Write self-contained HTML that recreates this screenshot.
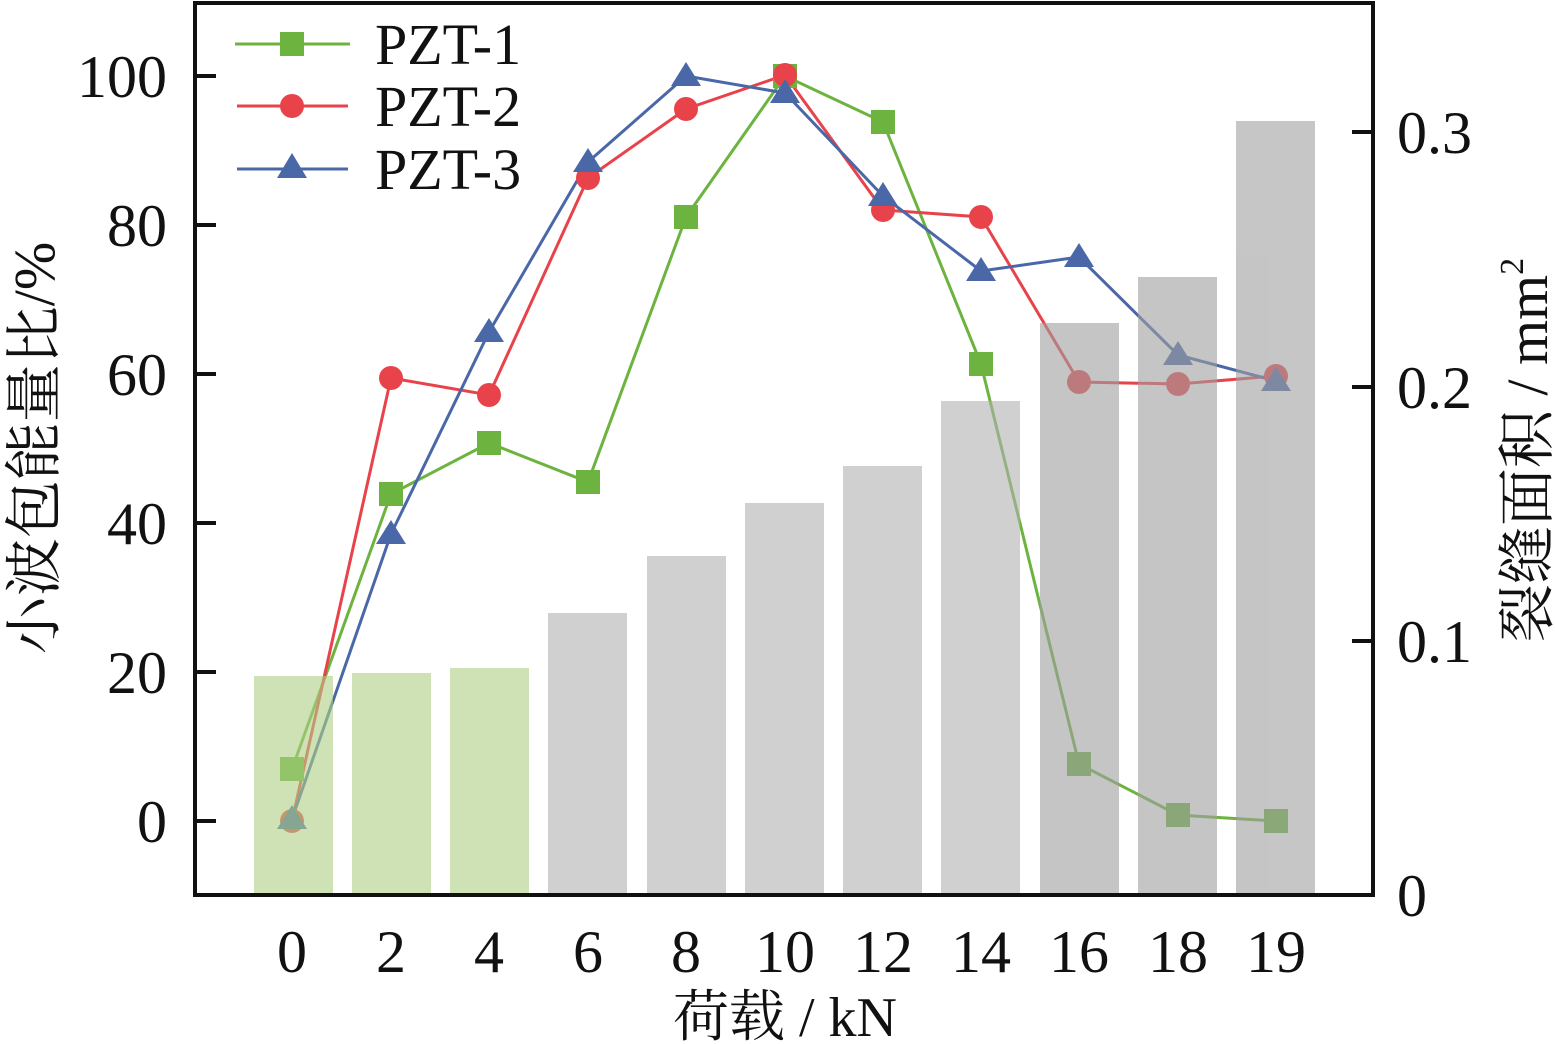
<!DOCTYPE html>
<html><head><meta charset="utf-8"><style>
html,body{margin:0;padding:0;background:#fff;}
svg{display:block;}
text{font-family:"Liberation Serif","Times New Roman",serif;fill:#111;}
.cjk{font-family:"Liberation Serif","Noto Serif CJK SC","Noto Sans CJK SC",serif;}
</style></head><body>
<svg width="1555" height="1044" viewBox="0 0 1555 1044" xmlns="http://www.w3.org/2000/svg">
<g fill="none" stroke-width="3">
<polyline stroke="#6db33f" points="292,769 391,494 489,443 588,482 686,217 785,76 883,122 981,364 1079,764 1178,815 1276,821"/>
<polyline stroke="#e8434a" points="292,821 391,378 489,395 588,178 686,109 785,75 883,210 981,217 1079,382 1178,384 1276,376"/>
<polyline stroke="#4a68a8" points="292,819 391,534 489,332 588,162 686,76 785,93 883,196 981,271 1079,257 1178,355 1276,381"/>
</g>
<g fill="#6db33f">
<rect x="280" y="757" width="24" height="24"/><rect x="379" y="482" width="24" height="24"/><rect x="477" y="431" width="24" height="24"/><rect x="576" y="470" width="24" height="24"/><rect x="674" y="205" width="24" height="24"/><rect x="773" y="64" width="24" height="24"/><rect x="871" y="110" width="24" height="24"/><rect x="969" y="352" width="24" height="24"/><rect x="1067" y="752" width="24" height="24"/><rect x="1166" y="803" width="24" height="24"/><rect x="1264" y="809" width="24" height="24"/>
</g>
<g fill="#e8434a">
<circle cx="292" cy="821" r="12"/><circle cx="391" cy="378" r="12"/><circle cx="489" cy="395" r="12"/><circle cx="588" cy="178" r="12"/><circle cx="686" cy="109" r="12"/><circle cx="785" cy="75" r="12"/><circle cx="883" cy="210" r="12"/><circle cx="981" cy="217" r="12"/><circle cx="1079" cy="382" r="12"/><circle cx="1178" cy="384" r="12"/><circle cx="1276" cy="376" r="12"/>
</g>
<g fill="#4a68a8">
<path d="M292,805 l15,24 h-30z"/><path d="M391,520 l15,24 h-30z"/><path d="M489,318 l15,24 h-30z"/><path d="M588,148 l15,24 h-30z"/><path d="M686,62 l15,24 h-30z"/><path d="M785,79 l15,24 h-30z"/><path d="M883,182 l15,24 h-30z"/><path d="M981,257 l15,24 h-30z"/><path d="M1079,243 l15,24 h-30z"/><path d="M1178,341 l15,24 h-30z"/><path d="M1276,367 l15,24 h-30z"/>
</g>
<g opacity="0.6">
<rect x="254" y="676" width="79" height="219" fill="#afd085"/>
<rect x="352" y="673" width="79" height="222" fill="#afd085"/>
<rect x="450" y="668" width="79" height="227" fill="#afd085"/>
<rect x="548" y="613" width="79" height="282" fill="#b1b1b1"/>
<rect x="647" y="556" width="79" height="339" fill="#b1b1b1"/>
<rect x="745" y="503" width="79" height="392" fill="#b1b1b1"/>
<rect x="843" y="466" width="79" height="429" fill="#b1b1b1"/>
<rect x="941" y="401" width="79" height="494" fill="#b1b1b1"/>
<rect x="1040" y="323" width="79" height="572" fill="#a0a0a0"/>
<rect x="1138" y="277" width="79" height="618" fill="#a0a0a0"/>
<rect x="1236" y="121" width="79" height="774" fill="#a0a0a0"/>
</g>
<rect x="195" y="3" width="1178" height="892" fill="none" stroke="#111" stroke-width="4"/>
<g stroke="#111" stroke-width="4">
<line x1="195" y1="821" x2="216" y2="821"/><line x1="195" y1="672" x2="216" y2="672"/><line x1="195" y1="523" x2="216" y2="523"/><line x1="195" y1="374" x2="216" y2="374"/><line x1="195" y1="225" x2="216" y2="225"/><line x1="195" y1="76" x2="216" y2="76"/>
<line x1="1352" y1="641" x2="1373" y2="641"/><line x1="1352" y1="387" x2="1373" y2="387"/><line x1="1352" y1="132" x2="1373" y2="132"/>
</g>
<g font-size="60" text-anchor="end">
<text x="167" y="842">0</text><text x="167" y="693">20</text><text x="167" y="544">40</text><text x="167" y="395">60</text><text x="167" y="246">80</text><text x="167" y="97">100</text>
</g>
<g font-size="60">
<text x="1397" y="916">0</text><text x="1397" y="662">0.1</text><text x="1397" y="408">0.2</text><text x="1397" y="153">0.3</text>
</g>
<g font-size="60" text-anchor="middle">
<text x="292" y="972">0</text><text x="391" y="972">2</text><text x="489" y="972">4</text><text x="588" y="972">6</text><text x="686" y="972">8</text><text x="785" y="972">10</text><text x="883" y="972">12</text><text x="981" y="972">14</text><text x="1079" y="972">16</text><text x="1178" y="972">18</text><text x="1276" y="972">19</text>
</g>
<text class="cjk" x="785" y="1036" font-size="56" text-anchor="middle">荷载 / kN</text>
<text class="cjk" transform="translate(54,448) rotate(-90)" font-size="58" text-anchor="middle">小波包能量比/%</text>
<text class="cjk" transform="translate(1547,450) rotate(-90)" font-size="58" text-anchor="middle">裂缝面积 / mm<tspan font-size="34" dy="-24">2</tspan></text>
<g stroke-width="3">
<line x1="235" y1="44" x2="350" y2="44" stroke="#6db33f"/><rect x="280" y="32" width="24" height="24" fill="#6db33f"/>
<line x1="237" y1="106" x2="348" y2="106" stroke="#e8434a"/><circle cx="292" cy="106" r="12" fill="#e8434a"/>
<line x1="237" y1="169" x2="348" y2="169" stroke="#4a68a8"/><path d="M292,153 l15,25 h-30z" fill="#4a68a8"/>
</g>
<g font-size="58">
<text x="375" y="64">PZT-1</text><text x="375" y="126">PZT-2</text><text x="375" y="189">PZT-3</text>
</g>
</svg>
</body></html>
